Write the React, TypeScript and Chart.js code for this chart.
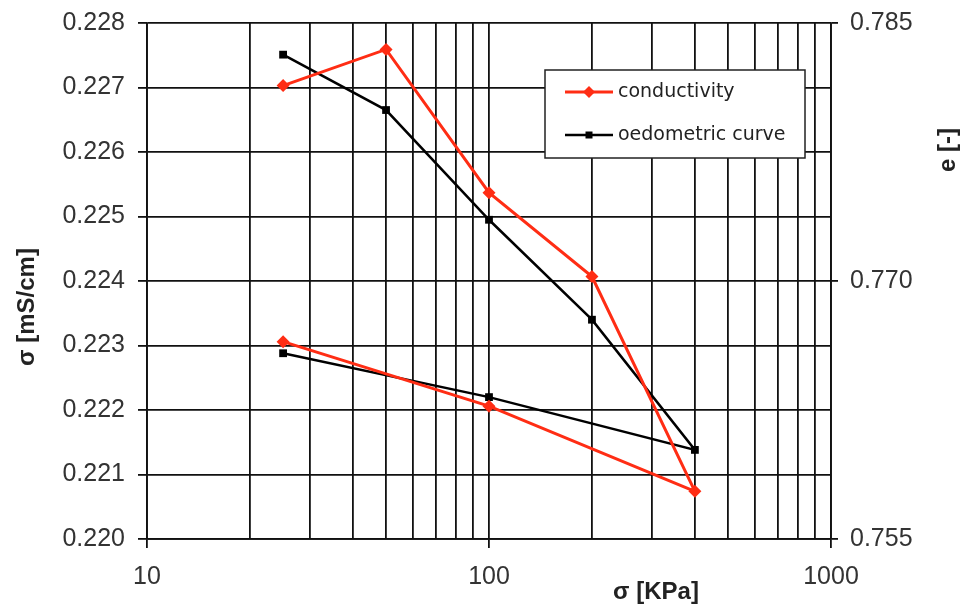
import React, { useEffect, useRef } from "react";
import { Chart, registerables } from "chart.js";

Chart.register(...registerables);

// Applied stress (KPa), loading then unloading path
const pressures = [25, 50, 100, 200, 400, 100, 25];
// Electrical conductivity (mS/cm) – left axis
const conductivity = [0.22703, 0.22759, 0.22537, 0.22407, 0.22074, 0.22206, 0.22306];
// Void ratio e (-) – right axis
const voidRatio = [0.78316, 0.77994, 0.77356, 0.76775, 0.76018, 0.76325, 0.7658];

const xGridValues = [10, 20, 30, 40, 50, 60, 70, 80, 90, 100, 200, 300, 400, 500, 600, 700, 800, 900, 1000];
const xLabelValues = [10, 100, 1000];
const seriesNames = ["conductivity", "oedometric curve"];
const axisTitles = { x: "σ [KPa]", yLeft: "σ [mS/cm]", yRight: "e [-]" };

const RED = "rgb(255,45,20)";
const BLACK = "#000";
const TICK_FONT = { family: "'Liberation Sans', Arial, sans-serif", size: 25 };
const TICK_COLOR = "#333";
const GRID = "#111";

const titlesAndLegend = {
  id: "titlesAndLegend",
  afterDraw(chart: any) {
    const ctx = chart.ctx;
    ctx.save();
    ctx.fillStyle = "#222";
    ctx.font = "bold 24px 'Liberation Sans', Arial, sans-serif";
    ctx.textAlign = "center";
    ctx.textBaseline = "middle";
    // bottom title
    ctx.fillText(axisTitles.x, 656, 592);
    // left title
    ctx.save();
    ctx.translate(27, 307);
    ctx.rotate(-Math.PI / 2);
    ctx.fillText(axisTitles.yLeft, 0, 0);
    ctx.restore();
    // right title
    ctx.save();
    ctx.translate(948, 150);
    ctx.rotate(-Math.PI / 2);
    ctx.fillText(axisTitles.yRight, 0, 0);
    ctx.restore();

    // legend box
    const bx = 545, by = 70, bw = 260, bh = 88;
    ctx.fillStyle = "#fff";
    ctx.fillRect(bx, by, bw, bh);
    ctx.strokeStyle = "#222";
    ctx.lineWidth = 1.5;
    ctx.strokeRect(bx, by, bw, bh);
    const rows = [92, 135];
    chart.data.datasets.forEach((ds: any, i: number) => {
      const y = rows[i];
      ctx.strokeStyle = ds.borderColor;
      ctx.lineWidth = ds.borderWidth;
      ctx.beginPath();
      ctx.moveTo(565, y);
      ctx.lineTo(613, y);
      ctx.stroke();
      ctx.fillStyle = ds.pointBackgroundColor;
      ctx.beginPath();
      if (ds.pointStyle === "rectRot") {
        const r = 6;
        ctx.moveTo(589, y - r);
        ctx.lineTo(589 + r, y);
        ctx.lineTo(589, y + r);
        ctx.lineTo(589 - r, y);
        ctx.closePath();
      } else {
        ctx.rect(589 - 3.5, y - 3.5, 7, 7);
      }
      ctx.fill();
      ctx.fillStyle = "#222";
      ctx.font = "19px 'DejaVu Sans', Verdana, sans-serif";
      ctx.textAlign = "left";
      ctx.fillText(ds.label, 618, y);
    });
    ctx.restore();
  },
};

export default function App() {
  const ref = useRef<HTMLCanvasElement | null>(null);
  useEffect(() => {
    if (!ref.current) return;
    const chart = new Chart(ref.current, {
      type: "line",
      data: {
        datasets: [
          {
            label: seriesNames[0],
            data: pressures.map((p, i) => ({ x: p, y: conductivity[i] })),
            borderColor: RED,
            backgroundColor: RED,
            pointBackgroundColor: RED,
            pointBorderColor: RED,
            borderWidth: 3,
            pointStyle: "rectRot",
            pointRadius: 6.5,
            pointBorderWidth: 0,
            yAxisID: "y",
            tension: 0,
          },
          {
            label: seriesNames[1],
            data: pressures.map((p, i) => ({ x: p, y: voidRatio[i] })),
            borderColor: BLACK,
            backgroundColor: BLACK,
            pointBackgroundColor: BLACK,
            pointBorderColor: BLACK,
            borderWidth: 2.5,
            pointStyle: "rect",
            pointRadius: 5.5,
            pointBorderWidth: 0,
            yAxisID: "y1",
            tension: 0,
          },
        ],
      },
      options: {
        animation: false,
        responsive: true,
        maintainAspectRatio: false,
        layout: { padding: { top: 23, left: 0, right: 0, bottom: 0 } },
        plugins: { legend: { display: false }, tooltip: { enabled: false } },
        scales: {
          x: {
            type: "logarithmic",
            min: 10,
            max: 1000,
            afterBuildTicks: (scale: any) => {
              scale.ticks = xGridValues.map((v) => ({ value: v, major: xLabelValues.includes(v) }));
            },
            afterFit: (scale: any) => {
              scale.height = 66;
              scale.paddingLeft = 0;
              scale.paddingRight = 0;
            },
            ticks: {
              autoSkip: false,
              maxRotation: 0,
              font: TICK_FONT,
              color: TICK_COLOR,
              padding: 14,
              callback: (v: any) => (xLabelValues.includes(Number(v)) ? String(v) : ""),
            },
            grid: {
              color: GRID,
              lineWidth: 1.8,
              tickLength: 9,
              tickColor: (c: any) => (c.tick && xLabelValues.includes(c.tick.value) ? GRID : "rgba(0,0,0,0)"),
            },
            border: { display: true, color: GRID, width: 1.8 },
          },
          y: {
            type: "linear",
            position: "left",
            min: 0.22,
            max: 0.228,
            afterFit: (scale: any) => {
              scale.width = 147;
              scale.paddingTop = 0;
              scale.paddingBottom = 0;
            },
            ticks: {
              stepSize: 0.001,
              font: TICK_FONT,
              color: TICK_COLOR,
              padding: 13,
              callback: (v: any) => Number(v).toFixed(3),
            },
            grid: { color: GRID, lineWidth: 1.8, tickLength: 9 },
            border: { display: true, color: GRID, width: 1.8 },
          },
          y1: {
            type: "linear",
            position: "right",
            min: 0.755,
            max: 0.785,
            afterFit: (scale: any) => {
              scale.width = 133;
              scale.paddingTop = 0;
              scale.paddingBottom = 0;
            },
            ticks: {
              stepSize: 0.015,
              font: TICK_FONT,
              color: TICK_COLOR,
              padding: 12,
              callback: (v: any) => Number(v).toFixed(3),
            },
            grid: { drawOnChartArea: false, color: GRID, lineWidth: 1.8, tickLength: 7 },
            border: { display: true, color: GRID, width: 1.8 },
          },
        },
      },
      plugins: [titlesAndLegend],
    });
    return () => chart.destroy();
  }, []);

  return (
    <div style={{ position: "absolute", left: 0, top: 0, width: 964, height: 605, background: "#fff" }}>
      <canvas ref={ref} />
    </div>
  );
}
